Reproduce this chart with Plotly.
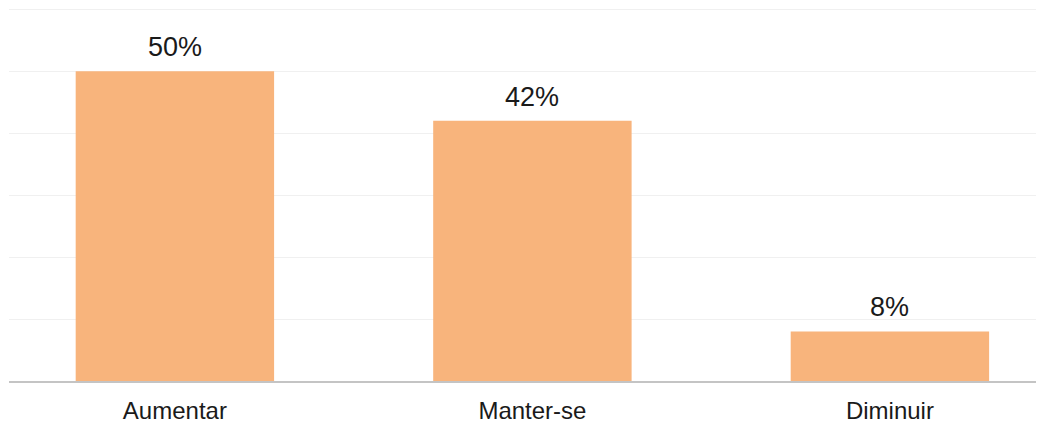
import plotly.graph_objects as go

categories = ["Aumentar", "Manter-se", "Diminuir"]
values = [50, 42, 8]
value_labels = ["50%", "42%", "8%"]

fig = go.Figure()
fig.add_trace(go.Bar(
    x=categories, y=values,
    marker=dict(color="#F8B47C", line=dict(width=0)),
    width=0.555,
    hoverinfo="skip",
))
for c, v, t in zip(categories, values, value_labels):
    fig.add_annotation(x=c, y=v, text=t, showarrow=False, yanchor="bottom",
                       yshift=7, font=dict(family="Liberation Sans, Arial", size=27, color="#1a1a1a"))

fig.update_layout(
    width=1036, height=415,
    margin=dict(l=1, r=0, t=0, b=42),
    paper_bgcolor="white", plot_bgcolor="white",
    showlegend=False,
    font=dict(family="Liberation Sans, Arial", color="#1a1a1a"),
)
fig.update_xaxes(
    range=[-0.464, 2.431], showgrid=False, showline=True, linecolor="#c4c4c4", linewidth=1.5,
    ticks="", tickfont=dict(size=24, color="#1a1a1a"), ticklabelstandoff=7, automargin=False,
)
fig.update_yaxes(
    range=[0, 60.2], dtick=10, showgrid=True, gridcolor="#f0f0f0", gridwidth=1,
    showticklabels=False, zeroline=False, ticks="", automargin=False,
)
fig.write_html("out.html")
